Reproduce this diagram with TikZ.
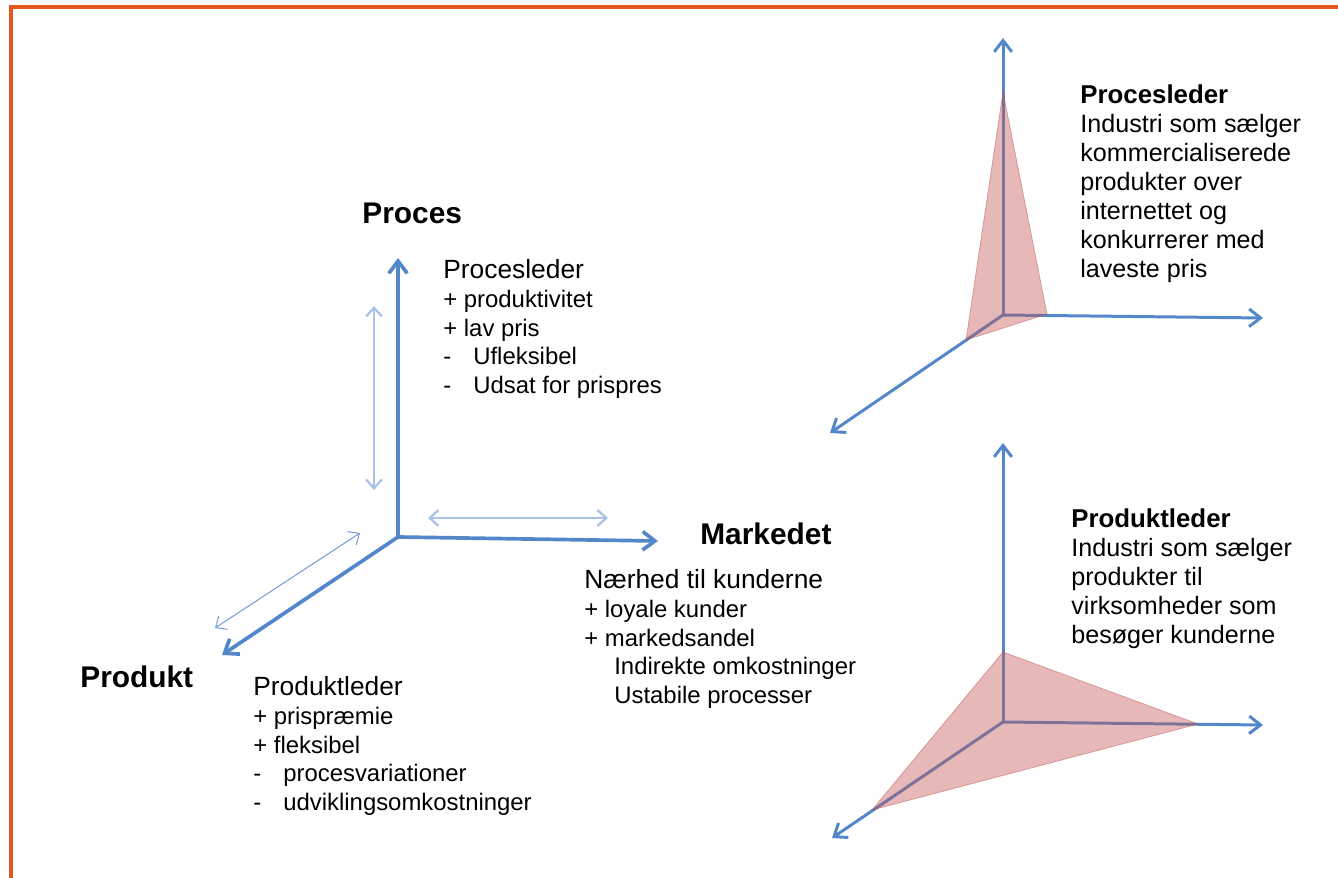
\documentclass[tikz,border=0pt]{standalone}
\usepackage{fontspec}
\setmainfont{Liberation Sans}
\usepackage{tikz}
\usepackage{xcolor}
\usetikzlibrary{arrows.meta, positioning}
\definecolor{AxisBlue}{HTML}{5487CA}
\definecolor{RangeBlue}{HTML}{A9C3E6}
\definecolor{FrameOrange}{HTML}{E6561F}
\definecolor{ConeRed}{HTML}{C0504D}
\newcommand{\minusitem}[1]{\makebox[0.6cm][l]{-}#1}

\begin{document}
\begin{tikzpicture}[x=0.02cm, y=-0.02cm,
  axis/.style={AxisBlue, line width=2.1pt, -{Straight Barb[length=7pt, width=10.5pt]}},
  smallaxis/.style={AxisBlue, line width=1.7pt, -{Straight Barb[length=6.5pt, width=10pt]}},
  spanarrow/.style={RangeBlue, line width=1.3pt, {Straight Barb[length=5pt, width=9pt]}-{Straight Barb[length=5pt, width=9pt]}},
  cone/.style={fill=ConeRed, fill opacity=0.4, draw=ConeRed, draw opacity=0.5, line width=0.4pt},
  title/.style={font=\fontsize{17}{20}\selectfont\bfseries, inner sep=0pt, anchor=base west},
  list/.style={font=\fontsize{13.6}{16.4}\selectfont, align=left, inner sep=0pt, anchor=north west},
  info/.style={font=\fontsize{14.3}{16.5}\selectfont, align=left, inner sep=0pt, anchor=north west}]

    \useasboundingbox (0,0) rectangle (1338,878);
    \draw[FrameOrange, line width=2.4pt] (11,878) -- (11,7) -- (1338,7);

    % main axes
    \coordinate (O) at (398,537);
    \coordinate (ProcesTip) at (398,258);
    \coordinate (MarkedTip) at (658,541);
    \coordinate (ProduktTip) at (222,655);
    \draw[axis] (O) -- (ProcesTip);
    \draw[axis] (O) -- (MarkedTip);
    \draw[axis] (O) -- (ProduktTip);

    \coordinate (R1a) at (374,306);
    \coordinate (R1b) at (374,490);
    \coordinate (R2a) at (428,518);
    \coordinate (R2b) at (608,518);
    \coordinate (R3a) at (360,533);
    \coordinate (R3b) at (215,628);
    \draw[spanarrow] (R1a) -- (R1b);
    \draw[spanarrow] (R2a) -- (R2b);
    \draw[spanarrow, AxisBlue!80, line width=0.6pt] (R3a) -- (R3b);

    \node[title] (Proces) at (362,224) {Proces};
    \node[title] (Markedet) at (700,544) {Markedet};
    \node[title] (Produkt) at (80,687) {Produkt};

    \node[list] (ProcesList) at (443,259) {{\fontsize{15}{16.4}\selectfont Procesleder}\\+ produktivitet\\+ lav pris\\\minusitem{Ufleksibel}\\\minusitem{Udsat for prispres}};
    \node[list] (MarkedList) at (584,569) {{\fontsize{15}{16.4}\selectfont Nærhed til kunderne}\\+ loyale kunder\\+ markedsandel\\\hspace*{0.6cm}Indirekte omkostninger\\\hspace*{0.6cm}Ustabile processer};
    \node[list] (ProduktList) at (253,676) {{\fontsize{15}{16.4}\selectfont Produktleder}\\+ prispræmie\\+ fleksibel\\\minusitem{procesvariationer}\\\minusitem{udviklingsomkostninger}};

    % proces leader
    \coordinate (A) at (1003,315);
    \coordinate (AUp) at (1003,38);
    \coordinate (ARight) at (1263,318);
    \coordinate (ADown) at (830,433);
    \draw[smallaxis] (A) -- (AUp);
    \draw[smallaxis] (A) -- (ARight);
    \draw[smallaxis] (A) -- (ADown);
    \coordinate (A1) at (1003,92);
    \coordinate (A2) at (1047,314);
    \coordinate (A3) at (966,340);
    \path[cone] (A1) -- (A2) -- (A3) -- cycle;
    \node[info] (ProcesInfo) at (1080,84) {{\fontsize{14.7}{16.5}\selectfont\bfseries Procesleder}\\Industri som sælger\\kommercialiserede\\produkter over\\internettet og\\konkurrerer med\\laveste pris};

    % produkt leader
    \coordinate (B) at (1003,722);
    \coordinate (BUp) at (1003,443);
    \coordinate (BRight) at (1263,725);
    \coordinate (BDown) at (832,838);
    \draw[smallaxis] (B) -- (BUp);
    \draw[smallaxis] (B) -- (BRight);
    \draw[smallaxis] (B) -- (BDown);
    \coordinate (B1) at (1003,652);
    \coordinate (B2) at (1198,724);
    \coordinate (B3) at (872,810);
    \path[cone] (B1) -- (B2) -- (B3) -- cycle;
    \node[info] (ProduktInfo) at (1071,508) {{\fontsize{14.7}{16.5}\selectfont\bfseries Produktleder}\\Industri som sælger\\produkter til\\virksomheder som\\besøger kunderne};

\end{tikzpicture}
\end{document}
